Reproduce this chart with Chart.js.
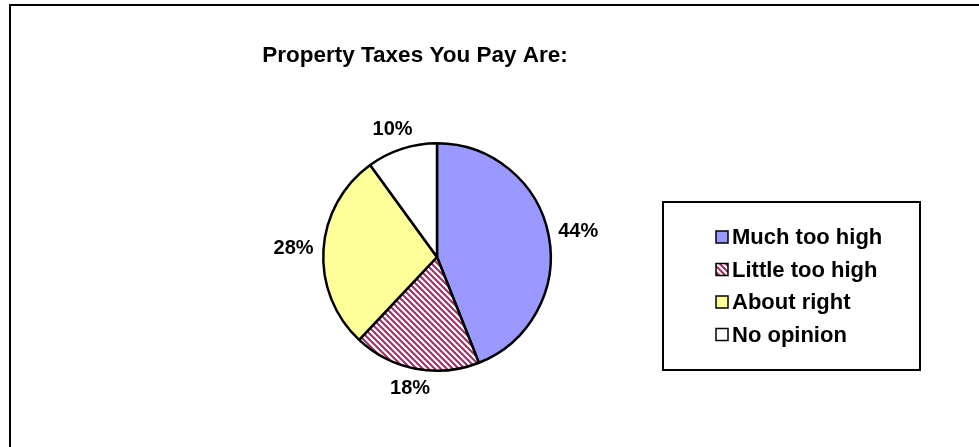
<!DOCTYPE html>
<html>
<head>
<meta charset="utf-8">
<script src="https://cdn.jsdelivr.net/npm/chart.js@4"></script>
<style>
  html, body { margin: 0; padding: 0; background: #fff; }
  #wrap { position: relative; width: 979px; height: 447px; }
</style>
</head>
<body>
<div id="wrap"><canvas id="pieChart" width="979" height="447"></canvas></div>
<script>
const chartTitle = 'Property Taxes You Pay Are:';
const labels = ['Much too high', 'Little too high', 'About right', 'No opinion'];
const values = [44, 18, 28, 10];

// diagonal hatch for "Little too high"
function hatch() {
  const c = document.createElement('canvas');
  c.width = 6; c.height = 6;
  const g = c.getContext('2d');
  g.fillStyle = '#fff'; g.fillRect(0, 0, 6, 6);
  g.strokeStyle = '#993366'; g.lineWidth = 2.1;
  g.beginPath();
  g.moveTo(-1, -1); g.lineTo(7, 7);
  g.moveTo(-1, 5); g.lineTo(1, 7);
  g.moveTo(5, -1); g.lineTo(7, 1);
  g.stroke();
  return g.createPattern(c, 'repeat');
}
const colors = ['#9999FF', hatch(), '#FFFF99', '#FFFFFF'];
const swatchColors = ['#9999FF', '#993366', '#FFFF99', '#FFFFFF'];

const decor = {
  id: 'decor',
  beforeDraw(chart) {
    const g = chart.ctx;
    g.save();
    g.fillStyle = '#fff'; g.fillRect(0, 0, chart.width, chart.height);
    g.strokeStyle = '#000'; g.lineWidth = 2;
    g.strokeRect(10, 5, 2000, 2000);
    g.fillStyle = '#000'; g.font = 'bold 22.5px "Liberation Sans", Arial, sans-serif';
    g.textAlign = 'center'; g.textBaseline = 'middle';
    g.fillText(chartTitle, 415, 56);
    g.restore();
  },
  afterDatasetsDraw(chart) {
    const g = chart.ctx;
    const meta = chart.getDatasetMeta(0);
    const total = values.reduce((a, b) => a + b, 0);
    g.save();
    g.fillStyle = '#000'; g.font = 'bold 20px "Liberation Sans", Arial, sans-serif';
    g.textAlign = 'center'; g.textBaseline = 'middle';
    meta.data.forEach((arc, i) => {
      const p = arc.getProps(['x', 'y', 'startAngle', 'endAngle', 'outerRadius'], true);
      const a = (p.startAngle + p.endAngle) / 2;
      const txt = Math.round(values[i] / total * 100) + '%';
      const w = g.measureText(txt).width;
      const r = p.outerRadius + 10;
      const x = p.x + Math.cos(a) * r + Math.cos(a) * w / 2;
      const y = p.y + Math.sin(a) * r + Math.sin(a) * 10;
      g.fillText(txt, x, y);
    });
    // legend
    g.strokeStyle = '#000'; g.lineWidth = 2;
    g.strokeRect(663, 202, 257, 168);
    g.textAlign = 'left';
    g.font = 'bold 22px "Liberation Sans", Arial, sans-serif';
    labels.forEach((lab, i) => {
      const y = 237 + i * 32.5;
      g.fillStyle = i === 1 ? colors[1] : swatchColors[i];
      g.fillRect(716, y - 6, 12, 12);
      g.lineWidth = 1.5;
      g.strokeRect(716, y - 6, 12, 12);
      g.fillStyle = '#000';
      g.fillText(lab, 732, y + 1);
    });
    g.restore();
  }
};

new Chart(document.getElementById('pieChart'), {
  type: 'pie',
  data: {
    labels,
    datasets: [{ data: values, backgroundColor: colors, borderColor: '#000', borderWidth: 2.5 }]
  },
  options: {
    responsive: false,
    animation: false,
    layout: { padding: { top: 142, bottom: 75, left: 322, right: 427 } },
    plugins: { legend: { display: false }, tooltip: { enabled: false } }
  },
  plugins: [decor]
});
</script>
</body>
</html>
